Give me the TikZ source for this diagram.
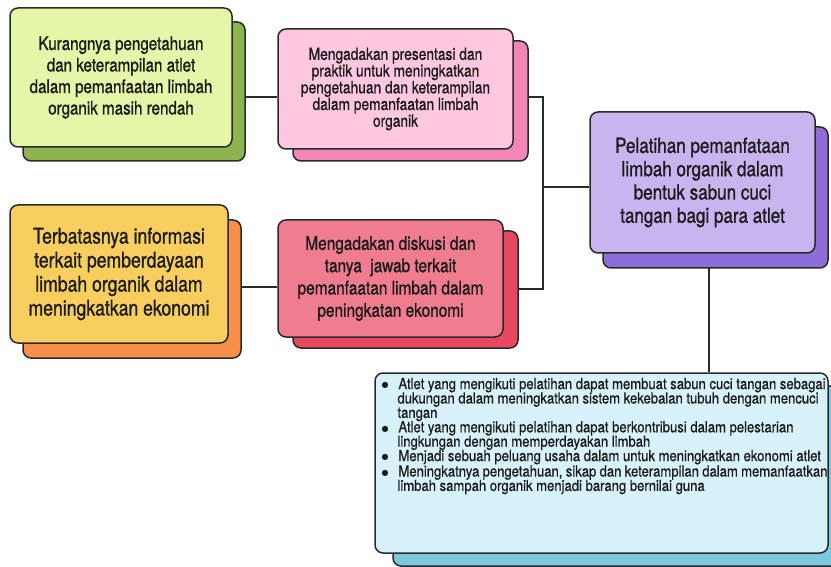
\documentclass[tikz,border=0pt]{standalone}
\usepackage{fontspec}
\setmainfont{TeX Gyre Heros}[FakeStretch=0.82,FakeBold=1]
\newfontfamily\listfont{TeX Gyre Heros}[FakeStretch=0.86,FakeBold=0.8]
\newfontfamily\dotfont{DejaVu Sans}
\usetikzlibrary{shadows,backgrounds}
\definecolor{edge}{HTML}{2A2A2A}
\definecolor{ink}{HTML}{1C1C1C}
\definecolor{gfront}{HTML}{E4F6A8}
\definecolor{gback}{HTML}{8DB34E}
\definecolor{pfront}{HTML}{FFC8E0}
\definecolor{pback}{HTML}{F286B6}
\definecolor{yfront}{HTML}{F8CF5E}
\definecolor{yback}{HTML}{F8904A}
\definecolor{rfront}{HTML}{EF7D8F}
\definecolor{rback}{HTML}{E8485F}
\definecolor{vfront}{HTML}{C8B4EE}
\definecolor{vback}{HTML}{8F6DD7}
\definecolor{bfront}{HTML}{D7F2FA}
\definecolor{bback}{HTML}{7EC8DE}
\newcommand{\bigbul}{{\dotfont\fontsize{8}{0}\selectfont\raisebox{1.2pt}{●}}}
\tikzset{
  card/.style n args={4}{draw=edge, line width=1.5pt, rounded corners=8pt,
    fill=#1, text=ink, align=center, inner sep=0pt,
    copy shadow={shadow xshift=#3, shadow yshift=#4, fill=#2, draw=edge,
      line width=1.5pt, opacity=1}},
  wire/.style={draw=edge, line width=1.4pt}
}
\begin{document}
\begin{tikzpicture}[x=1pt,y=-1pt]
\useasboundingbox (0,0) rectangle (831,567);
\clip (0,0) rectangle (831,567);
\node[card={gfront}{gback}{13pt}{-14pt}, minimum width=222pt, minimum height=139pt,
  font=\fontsize{18.5}{21.5}\selectfont] (b1) at (121,77.5)
  {Kurangnya pengetahuan\\dan keterampilan atlet\\dalam pemanfaatan limbah\\organik masih rendah};
\node[card={pfront}{pback}{15pt}{-12pt}, minimum width=235pt, minimum height=120pt,
  font=\fontsize{16.8}{16.7}\selectfont] (b2) at (395.5,89)
  {Mengadakan presentasi dan\\praktik untuk meningkatkan\\pengetahuan dan keterampilan\\dalam pemanfaatan limbah\\organik};
\node[card={yfront}{yback}{13pt}{-15pt}, minimum width=218pt, minimum height=138pt,
  font=\fontsize{21.5}{24}\selectfont] (b3) at (119,274)
  {Terbatasnya informasi\\terkait pemberdayaan\\limbah organik dalam\\meningkatkan ekonomi};
\node[card={rfront}{rback}{15pt}{-11pt}, minimum width=225pt, minimum height=117pt,
  font=\fontsize{18.8}{22.3}\selectfont] (b4) at (390.5,278.5)
  {Mengadakan diskusi dan\\tanya\ \ jawab terkait\\pemanfaatan limbah dalam\\peningkatan ekonomi};
\node[card={vfront}{vback}{13pt}{-15pt}, minimum width=225pt, minimum height=141pt,
  font=\fontsize{20.8}{23.3}\selectfont] (b5) at (702.5,182.5)
  {Pelatihan pemanfataan\\limbah organik dalam\\bentuk sabun cuci\\tangan bagi para atlet};
\node[card={bfront}{bback}{18pt}{-13pt}, minimum width=453pt, minimum height=180pt,
  align=left, font=\listfont\fontsize{15.2}{14.4}\selectfont] (b6) at (601.5,463)
  {\parbox[c][170pt][t]{452pt}{\raggedright
   \begin{list}{\bigbul}{\setlength\leftmargin{22pt}\setlength\labelwidth{6pt}%
     \setlength\labelsep{10pt}\setlength\itemsep{0pt}\setlength\parsep{0pt}%
     \setlength\topsep{0pt}\setlength\partopsep{0pt}}
   \item Atlet yang mengikuti pelatihan dapat membuat sabun cuci tangan sebagai\newline
     dukungan dalam meningkatkan sistem kekebalan tubuh dengan mencuci\newline tangan
   \item Atlet yang mengikuti pelatihan dapat berkontribusi dalam pelestarian\newline
     lingkungan dengan memperdayakan limbah
   \item Menjadi sebuah peluang usaha dalam untuk meningkatkan ekonomi atlet
   \item Meningkatnya pengetahuan, sikap dan keterampilan dalam memanfaatkan\newline
     limbah sampah organik menjadi barang bernilai guna
   \end{list}}};
\coordinate (bt) at (543,97);
\coordinate (bb) at (543,289);
\coordinate (c3) at (255,287);
\coordinate (c5) at (543,187);
\coordinate (c6) at (709,320);
\begin{scope}[on background layer]
\draw[wire] (b1.east |- bt) -- (b2.west |- bt);
\draw[wire] (b2.east |- bt) -- (bt) -- (bb) -- (b4.east |- bb);
\draw[wire] (b3.east |- c3) -- (b4.west |- c3);
\draw[wire] (c5) -- (b5.west |- c5);
\draw[wire] (b5.south -| c6) -- (b6.north -| c6);
\end{scope}
\end{tikzpicture}
\end{document}
